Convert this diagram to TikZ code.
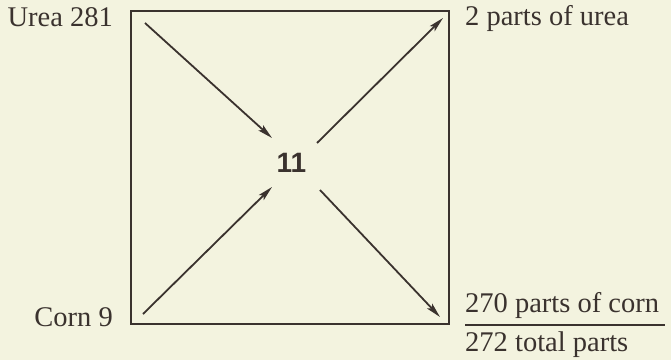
\documentclass[tikz,border=0pt]{standalone}
\usepackage{fontspec}
\setmainfont{Liberation Serif}
\newfontfamily\numfont{Liberation Sans}
\usetikzlibrary{arrows.meta}
\definecolor{bgc}{HTML}{F3F3DF}
\definecolor{ink}{HTML}{3A322E}
\begin{document}
\begin{tikzpicture}[x=1pt,y=1pt,
  lbl/.style={inner sep=0pt, text=ink, font=\fontsize{28.5}{31}\selectfont},
  flow/.style={draw=ink, line width=1.8pt, -{Stealth[length=15pt,width=7pt,inset=3pt]}}]
\fill[bgc] (0,0) rectangle (671,360);
\useasboundingbox (0,0) rectangle (671,360);
\node[draw=ink, line width=2.2pt, minimum width=318pt, minimum height=313pt, inner sep=0pt] (box) at (290,192.5) {};
\node[inner sep=0pt, text=ink, font=\numfont\bfseries\fontsize{28}{30}\selectfont] (mid) at (291.5,197.5) {11};
\coordinate (a1) at (145,337);
\coordinate (a2) at (272,222);
\coordinate (b1) at (317,217);
\coordinate (b2) at (443,342);
\coordinate (c1) at (143,46);
\coordinate (c2) at (272,173);
\coordinate (d1) at (320,170);
\coordinate (d2) at (440,43);
\draw[flow] (a1) -- (a2);
\draw[flow] (b1) -- (b2);
\draw[flow] (c1) -- (c2);
\draw[flow] (d1) -- (d2);
\node[lbl, anchor=base east] (urea) at (113,334) {Urea 281};
\node[lbl, anchor=base east] (corn) at (113,33.5) {Corn 9};
\node[lbl, anchor=base west] (pu) at (465,335) {2 parts of urea};
\node[lbl, anchor=base west] (pc) at (465,48) {270 parts of corn};
\node[lbl, anchor=base west] (tp) at (465,8.5) {272 total parts};
\coordinate (fl) at (465,35);
\coordinate (fr) at (665,35);
\draw[ink, line width=1.4pt] (fl) -- (fr);
\end{tikzpicture}
\end{document}
